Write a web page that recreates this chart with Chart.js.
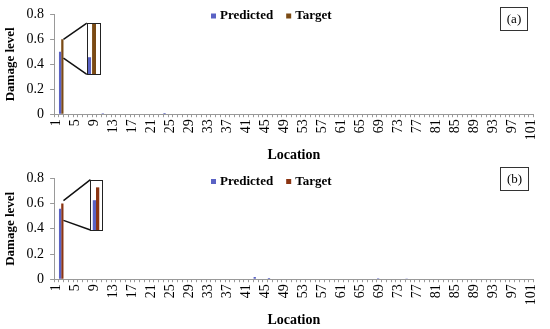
<!DOCTYPE html>
<html><head><meta charset="utf-8">
<script src="https://cdn.jsdelivr.net/npm/chart.js@4"></script>
<style>
html,body{margin:0;padding:0;background:#fff;width:550px;height:329px;overflow:hidden}
.wrap{position:absolute;left:0;width:550px}
</style></head><body>
<div class="wrap" style="top:0;height:164px"><canvas id="ca"></canvas></div>
<div class="wrap" style="top:164px;height:165px"><canvas id="cb"></canvas></div>
<script>
// ---- data ----
const locations = Array.from({length: 101}, (_, i) => String(i + 1));
const xTickLabels = ['1','5','9','13','17','21','25','29','33','37','41','45','49','53','57','61','65','69','73','77','81','85','89','93','97','101'];
const yTicks = [0, 0.2, 0.4, 0.6, 0.8];
const seriesNames = ['Predicted', 'Target'];

const predictedA = [
  0, 0.50, 0.004, 0, 0, 0, 0, 0, 0, 0,
  0.008, 0, 0, 0, 0, 0, 0, 0, 0, 0,
  0, 0, 0, 0.01, 0, 0, 0, 0, 0, 0,
  0, 0, 0, 0, 0, 0, 0, 0, 0, 0,
  0, 0, 0, 0.004, 0, 0, 0, 0, 0, 0,
  0, 0, 0, 0, 0, 0, 0, 0, 0, 0,
  0, 0, 0, 0, 0, 0, 0, 0, 0, 0,
  0, 0, 0, 0, 0, 0, 0, 0, 0, 0,
  0, 0, 0, 0, 0, 0, 0, 0, 0, 0,
  0, 0, 0, 0, 0, 0, 0, 0, 0, 0,
  0
];
const targetA = [
  0, 0.60, 0, 0, 0, 0, 0, 0, 0, 0,
  0, 0, 0, 0, 0, 0, 0, 0, 0, 0,
  0, 0, 0, 0, 0, 0, 0, 0, 0, 0,
  0, 0, 0, 0, 0, 0, 0, 0, 0, 0,
  0, 0, 0, 0, 0, 0, 0, 0, 0, 0,
  0, 0, 0, 0, 0, 0, 0, 0, 0, 0,
  0, 0, 0, 0, 0, 0, 0, 0, 0, 0,
  0, 0, 0, 0, 0, 0, 0, 0, 0, 0,
  0, 0, 0, 0, 0, 0, 0, 0, 0, 0,
  0, 0, 0, 0, 0, 0, 0, 0, 0, 0,
  0
];
const predictedB = [
  0, 0.56, 0, 0, 0.003, 0, 0, 0, 0, 0,
  0, 0, 0, 0, 0, 0, 0, 0, 0, 0,
  0, 0, 0, 0, 0, 0, 0, 0, 0, 0,
  0, 0, 0, 0, 0, 0, 0, 0, 0, 0,
  0, 0, 0.018, 0, 0, 0.01, 0, 0, 0, 0,
  0, 0, 0, 0, 0, 0, 0, 0, 0, 0,
  0, 0, 0, 0, 0, 0, 0, 0, 0.008, 0,
  0, 0, 0, 0, 0.006, 0, 0, 0, 0, 0,
  0, 0, 0, 0, 0, 0, 0, 0, 0, 0,
  0, 0.003, 0, 0, 0, 0, 0, 0, 0, 0,
  0
];
const targetB = [
  0, 0.60, 0, 0, 0, 0, 0, 0, 0, 0,
  0, 0, 0, 0, 0, 0, 0, 0, 0, 0,
  0, 0, 0, 0, 0, 0, 0, 0, 0, 0,
  0, 0, 0, 0, 0, 0, 0, 0, 0, 0,
  0, 0, 0, 0, 0, 0, 0, 0, 0, 0,
  0, 0, 0, 0, 0, 0, 0, 0, 0, 0,
  0, 0, 0, 0, 0, 0, 0, 0, 0, 0,
  0, 0, 0, 0, 0, 0, 0, 0, 0, 0,
  0, 0, 0, 0, 0, 0, 0, 0, 0, 0,
  0, 0, 0, 0, 0, 0, 0, 0, 0, 0,
  0
];

// ---- styling / plugins ----
const SERIF = '"Liberation Serif", "Times New Roman", serif';
const PRED_COLOR = '#5a62c4';

const insetPlugin = {
  id: 'inset',
  afterDatasetsDraw(chart, args, o) {
    if (!o || o.index == null) return;
    const {ctx, scales: {x, y}} = chart;
    const ds = chart.data.datasets;
    const i = o.index;
    const el = chart.getDatasetMeta(1).data[i];
    const x0 = el.x + el.width / 2;
    const bx0 = x.getPixelForValue(o.boxFrom), bx1 = x.getPixelForValue(o.boxTo);
    const by0 = y.getPixelForValue(o.boxHi), by1 = y.getPixelForValue(o.boxLo);
    const map = v => y.getPixelForValue(o.boxLo + (v - o.srcLo) / (o.srcHi - o.srcLo) * (o.boxHi - o.boxLo));
    ctx.save();
    ctx.strokeStyle = '#111'; ctx.lineWidth = 1.5;
    ctx.beginPath();
    ctx.moveTo(x0, y.getPixelForValue(o.srcHi)); ctx.lineTo(bx0, by0);
    ctx.moveTo(x0, y.getPixelForValue(o.srcLo)); ctx.lineTo(bx0, by1);
    ctx.stroke();
    ctx.fillStyle = '#fff'; ctx.fillRect(bx0, by0, bx1 - bx0, by1 - by0);
    const w = bx1 - bx0;
    o.bars.forEach((b, k) => {
      const v = ds[k].data[i];
      const top = Math.max(by0, map(v));
      ctx.fillStyle = ds[k].backgroundColor;
      ctx.fillRect(bx0 + b[0] * w, top, (b[1] - b[0]) * w, by1 - top);
    });
    ctx.strokeStyle = '#222'; ctx.lineWidth = 1;
    ctx.strokeRect(Math.round(bx0) + 0.5, Math.round(by0) + 0.5, Math.round(bx1 - bx0), Math.round(by1 - by0));
    ctx.restore();
  }
};

const decorPlugin = {
  id: 'decor',
  afterDraw(chart, args, o) {
    const {ctx} = chart;
    const ds = chart.data.datasets;
    ctx.save();
    ctx.font = 'bold 13px ' + SERIF;
    ctx.textBaseline = 'middle';
    ctx.textAlign = 'left';
    let lx = o.legendX;
    ds.forEach((d, k) => {
      ctx.fillStyle = d.backgroundColor;
      ctx.fillRect(lx, o.legendY - 2.5, 5, 5);
      ctx.fillStyle = '#000';
      ctx.fillText(d.label, lx + 9, o.legendY);
      lx += 9 + ctx.measureText(d.label).width + 13;
    });
    const b = o.box;
    ctx.fillStyle = '#fff';
    ctx.fillRect(b[0], b[1], b[2], b[3]);
    ctx.strokeStyle = '#333'; ctx.lineWidth = 1;
    ctx.strokeRect(b[0] + 0.5, b[1] + 0.5, b[2], b[3]);
    ctx.font = '13px ' + SERIF;
    ctx.fillStyle = '#000';
    ctx.textAlign = 'center';
    ctx.fillText(o.label, b[0] + b[2] / 2 + 0.5, b[1] + b[3] / 2 + 1);
    ctx.restore();
  }
};

function makeChart(id, pred, targ, targColor, panel, inset, legendY, box, topPad) {
  return new Chart(document.getElementById(id), {
    type: 'bar',
    data: {
      labels: locations,
      datasets: [
        {label: seriesNames[0], data: pred, backgroundColor: PRED_COLOR, categoryPercentage: 0.95, barPercentage: 1.0},
        {label: seriesNames[1], data: targ, backgroundColor: targColor, categoryPercentage: 0.95, barPercentage: 1.0}
      ]
    },
    options: {
      responsive: true,
      maintainAspectRatio: false,
      animation: false,
      layout: {padding: {left: 0, right: -4, top: topPad, bottom: 0}},
      plugins: {
        legend: {display: false},
        tooltip: {enabled: false},
        inset: inset,
        decor: {label: panel, legendX: 211, legendY: legendY, box: box}
      },
      scales: {
        x: {
          type: 'category',
          offset: true,
          border: {color: '#999', width: 1},
          grid: {drawOnChartArea: false, drawTicks: true, tickLength: 3, color: '#999', offset: true},
          ticks: {
            autoSkip: false, maxRotation: 90, minRotation: 90, padding: 2,
            color: '#000', font: {family: SERIF, size: 14},
            callback: function(v) { const l = this.getLabelForValue(v); return xTickLabels.includes(l) ? l : ''; }
          },
          title: {display: true, text: 'Location', color: '#000', font: {family: SERIF, size: 14, weight: 'bold'}, padding: {top: 5, bottom: 0}}
        },
        y: {
          min: 0, max: 0.8,
          border: {color: '#999', width: 1},
          grid: {drawOnChartArea: false, drawTicks: true, tickLength: 4, color: '#999'},
          afterBuildTicks: s => { s.ticks = yTicks.map(v => ({value: v})); },
          ticks: {
            color: '#000', font: {family: SERIF, size: 14}, padding: 6,
            callback: v => (v === 0 ? '0' : v.toFixed(1))
          },
          title: {display: true, text: 'Damage level', color: '#000', font: {family: SERIF, size: 13, weight: 'bold'}, padding: {top: 3, bottom: 2}}
        }
      }
    },
    plugins: [insetPlugin, decorPlugin]
  });
}

makeChart('ca', predictedA, targetA, '#7a4a14', '(a)',
  {index: 1, srcLo: 0.45, srcHi: 0.60, boxLo: 0.32, boxHi: 0.73, boxFrom: 6.4, boxTo: 9.15, bars: [[0.075, 0.32], [0.40, 0.70]]},
  16, [500, 7, 27, 23], 8);
makeChart('cb', predictedB, targetB, '#8a3412', '(b)',
  {index: 1, srcLo: 0.467, srcHi: 0.624, boxLo: 0.39, boxHi: 0.79, boxFrom: 7.16, boxTo: 9.7, bars: [[0.19, 0.46], [0.46, 0.73]]},
  17.5, [500, 3, 28, 23], 9);
</script>
</body></html>
